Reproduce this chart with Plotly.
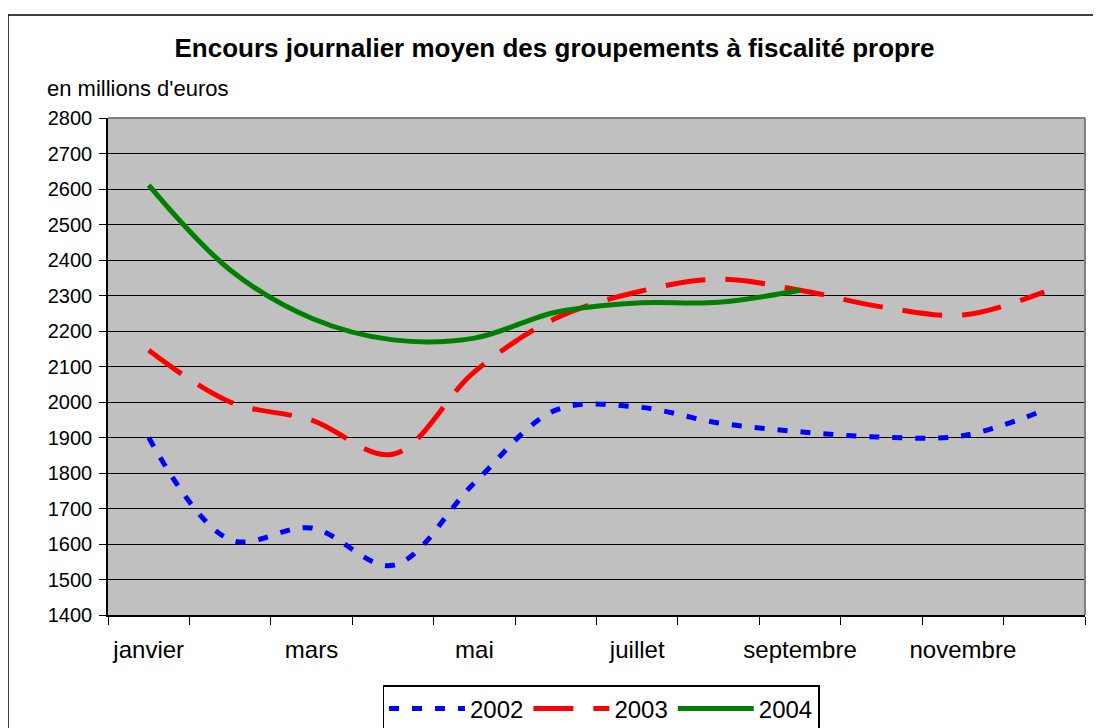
import plotly.graph_objects as go

months = ["janvier", "février", "mars", "avril", "mai", "juin", "juillet",
          "août", "septembre", "octobre", "novembre", "décembre"]
tick_labels = ["janvier", "", "mars", "", "mai", "", "juillet", "",
               "septembre", "", "novembre", ""]
y2002 = [1900, 1612, 1645, 1540, 1772, 1977, 1986, 1941, 1916, 1901, 1905, 1977]
y2003 = [2146, 2000, 1949, 1853, 2085, 2236, 2310, 2346, 2315, 2268, 2245, 2310]
y2004 = [2611, 2372, 2236, 2175, 2180, 2253, 2279, 2281, 2315]
y_ticks = list(range(1400, 2801, 100))

FONT = "Liberation Sans, Arial, sans-serif"

# page is rendered with an 8px body margin -> work in page coordinates
OFF = 8
W, H = 1101 - OFF, 728 - OFF
PL, PR, PT, PB = 108, 1085, 118, 615   # plot area in page pixels
PW, PH = PR - PL, PB - PT


def px(xp):
    return (xp - PL) / PW


def py(yp):
    return (PB - yp) / PH


fig = go.Figure()
fig.add_trace(go.Scatter(x=months, y=y2002, name="2002", mode="lines",
                         line=dict(color="#0000FF", width=5, dash="10px,13px",
                                   shape="spline", smoothing=1)))
fig.add_trace(go.Scatter(x=months, y=y2003, name="2003", mode="lines",
                         line=dict(color="#FF0000", width=5, dash="40px,20px",
                                   shape="spline", smoothing=1)))
fig.add_trace(go.Scatter(x=months[:len(y2004)], y=y2004, name="2004", mode="lines",
                         line=dict(color="#008000", width=5,
                                   shape="spline", smoothing=1)))

fig.update_layout(
    width=W, height=H,
    margin=dict(l=PL - OFF, r=W - (PR - OFF), t=PT - OFF, b=H - (PB - OFF),
                autoexpand=False),
    paper_bgcolor="white",
    plot_bgcolor="#C0C0C0",
    font=dict(family=FONT, size=20, color="black"),
    title=dict(text="<b>Encours journalier moyen des groupements à fiscalité propre</b>",
               x=0.5, xanchor="center", y=1 - (48 - OFF) / H, yanchor="middle",
               font=dict(family=FONT, size=26, color="black")),
    showlegend=True,
    legend=dict(orientation="h", x=px(601), xanchor="center", y=py(685),
                yanchor="top", itemwidth=76,
                bordercolor="black", borderwidth=1.5, bgcolor="white",
                font=dict(family=FONT, size=24), traceorder="normal"),
    xaxis=dict(type="category", categoryorder="array", categoryarray=months,
               tickmode="array", tickvals=months, ticktext=tick_labels,
               tickson="boundaries", ticks="outside", ticklen=8, tickcolor="black",
               tickwidth=1, showline=True, linecolor="black", linewidth=1.5,
               showgrid=False, range=[-0.5, 11.5], zeroline=False, tickangle=0,
               ticklabelstandoff=12,
               tickfont=dict(family=FONT, size=24)),
    yaxis=dict(range=[1400, 2800], tickmode="array", tickvals=y_ticks,
               ticks="outside", ticklen=7, tickcolor="black", tickwidth=1,
               showline=True, linecolor="black", linewidth=1.5,
               showgrid=True, gridcolor="black", gridwidth=1, zeroline=False,
               ticklabelstandoff=3,
               tickfont=dict(family=FONT, size=20)),
)

# grey plot-area border on top and right
fig.add_shape(type="line", xref="paper", yref="paper", x0=0, x1=1, y0=1, y1=1,
              line=dict(color="#808080", width=2))
fig.add_shape(type="line", xref="paper", yref="paper", x0=1, x1=1, y0=0, y1=1,
              line=dict(color="#808080", width=2))
# outer chart border
fig.add_shape(type="rect", xref="paper", yref="paper",
              x0=px(8), x1=px(1120), y0=py(760), y1=py(15),
              line=dict(color="black", width=1.5), fillcolor="rgba(0,0,0,0)",
              layer="below")

fig.add_annotation(text="en millions d'euros", xref="paper", yref="paper",
                   x=px(45), y=py(88), xanchor="left",
                   yanchor="middle", showarrow=False,
                   font=dict(family=FONT, size=22, color="black"))

fig.write_html("out.html")
